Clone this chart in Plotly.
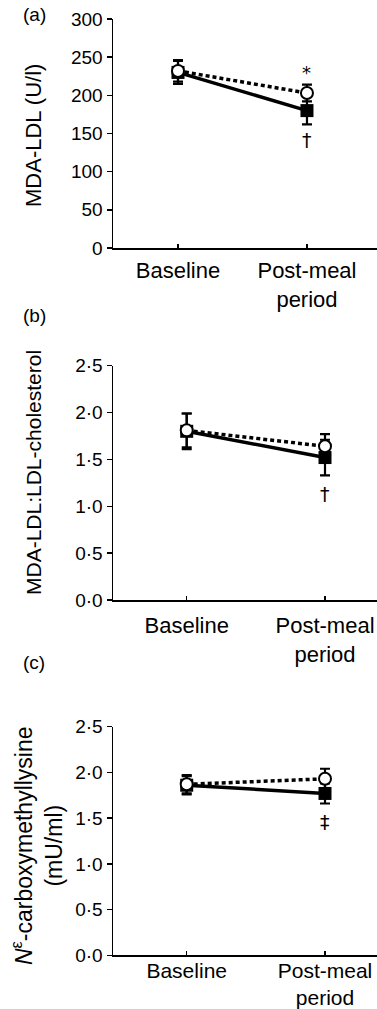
import plotly.graph_objects as go

categories = [0, 1]
cat_labels = ["Baseline", "Post-meal<br>period"]

# Panel (a) MDA-LDL (U/l)
a_open = [232, 203]
a_open_err = [14, 11]
a_filled = [230, 180]
a_filled_err = [15, 18]

# Panel (b) MDA-LDL:LDL-cholesterol
b_open = [1.81, 1.64]
b_open_err = [0.18, 0.13]
b_filled = [1.80, 1.52]
b_filled_err = [0.19, 0.19]

# Panel (c) N-epsilon-carboxymethyllysine (mU/ml)
c_open = [1.87, 1.93]
c_open_err = [0.10, 0.11]
c_filled = [1.86, 1.77]
c_filled_err = [0.10, 0.11]

a_ticks = [0, 50, 100, 150, 200, 250, 300]
a_ticktext = ["0", "50", "100", "150", "200", "250", "300"]
bc_ticks = [0, 0.5, 1.0, 1.5, 2.0, 2.5]
bc_ticktext = ["0·0", "0·5", "1·0", "1·5", "2·0", "2·5"]

y_titles = ["MDA-LDL (U/l)", "MDA-LDL:LDL-cholesterol",
            "<i>N</i><sup>ε</sup>-carboxymethyllysine<br>(mU/ml)"]
panel_labels = ["(a)", "(b)", "(c)"]

FONT = "Liberation Sans"
W, H = 377, 1009

fig = go.Figure()

panels = [
    (a_open, a_open_err, a_filled, a_filled_err, "x", "y"),
    (b_open, b_open_err, b_filled, b_filled_err, "x2", "y2"),
    (c_open, c_open_err, c_filled, c_filled_err, "x3", "y3"),
]

for op, ope, fi, fie, xa, ya in panels:
    fig.add_trace(go.Scatter(
        x=categories, y=fi, xaxis=xa, yaxis=ya, mode="lines+markers",
        line=dict(color="black", width=3.5),
        marker=dict(symbol="square", size=13, color="black"),
        error_y=dict(type="data", array=fie, color="black", thickness=2.2, width=5),
        showlegend=False, cliponaxis=False, hoverinfo="skip"))
    fig.add_trace(go.Scatter(
        x=categories, y=op, xaxis=xa, yaxis=ya, mode="lines+markers",
        line=dict(color="black", width=3.5, dash="4px,3px"),
        marker=dict(symbol="circle", size=12, color="white",
                    line=dict(color="black", width=2)),
        error_y=dict(type="data", array=ope, color="black", thickness=2.2, width=5),
        showlegend=False, cliponaxis=False, hoverinfo="skip"))

def yaxis(domain, rng, tv, tt):
    return dict(domain=domain, range=rng, tickvals=tv, ticktext=tt,
                showline=True, linecolor="black", linewidth=1.5,
                ticks="outside", ticklen=5, tickcolor="black", tickwidth=1.5,
                showgrid=False, zeroline=False, automargin=False, fixedrange=True,
                tickfont=dict(family=FONT, size=19, color="black"))

def xaxis(domain, rng, standoff, size):
    return dict(domain=domain, range=rng, tickvals=categories, ticktext=cat_labels,
                showline=True, linecolor="black", linewidth=1.5,
                ticks="inside", ticklen=4, tickcolor="black", tickwidth=1.5,
                showgrid=False, zeroline=False, automargin=False, fixedrange=True,
                ticklabelstandoff=standoff,
                tickfont=dict(family=FONT, size=size, color="black"))

xd = [113 / W, 1.0]
fig.update_layout(
    width=W, height=H, margin=dict(l=0, r=0, t=0, b=0, autoexpand=False),
    paper_bgcolor="white", plot_bgcolor="white",
    xaxis=dict(xaxis(xd, [-0.504, 1.543], 2, 22), anchor="y"),
    yaxis=dict(yaxis([1 - 248 / H, 1 - 19 / H], [0, 300], a_ticks, a_ticktext), anchor="x"),
    xaxis2=dict(xaxis(xd, [-0.533, 1.376], 5, 22), anchor="y2"),
    yaxis2=dict(yaxis([1 - 600 / H, 1 - 365.7 / H], [0, 2.5], bc_ticks, bc_ticktext), anchor="x2"),
    xaxis3=dict(xaxis(xd, [-0.533, 1.376], -4, 21), anchor="y3"),
    yaxis3=dict(yaxis([1 - 955.3 / H, 1 - 726.7 / H], [0, 2.5], bc_ticks, bc_ticktext), anchor="x3"),
)

# y-axis titles (rotated), placed in paper coordinates
for txt, (xc, yc), size in zip(y_titles, [(34, 136), (34, 473), (37, 846)], [22, 21, 23]):
    fig.add_annotation(x=xc / W, y=1 - yc / H, xref="paper", yref="paper", text=txt,
                       textangle=-90, showarrow=False, xanchor="center", yanchor="middle",
                       font=dict(family=FONT, size=size, color="black"))

annots = [
    dict(x=1, y=a_open[1] + a_open_err[1], xref="x", yref="y", text="*", yshift=12, size=18),
    dict(x=1, y=a_filled[1] - a_filled_err[1], xref="x", yref="y", text="†", yshift=-16, size=19),
    dict(x=1, y=b_filled[1] - b_filled_err[1], xref="x2", yref="y2", text="†", yshift=-19, size=19),
    dict(x=1, y=c_filled[1] - c_filled_err[1], xref="x3", yref="y3", text="‡", yshift=-18, size=19),
]
for a in annots:
    s = a.pop("size")
    fig.add_annotation(showarrow=False, font=dict(family="DejaVu Sans", size=s, color="black"), **a)

for lbl, yp in zip(panel_labels, [15, 315, 662]):
    fig.add_annotation(x=21 / W, y=1 - yp / H, xref="paper", yref="paper", text=lbl,
                       showarrow=False, xanchor="left", yanchor="middle",
                       font=dict(family=FONT, size=19, color="black"))

fig.write_html("out.html", config={"displayModeBar": False, "staticPlot": True},
               post_script="document.body.style.margin='0';document.body.style.overflow='hidden';")
